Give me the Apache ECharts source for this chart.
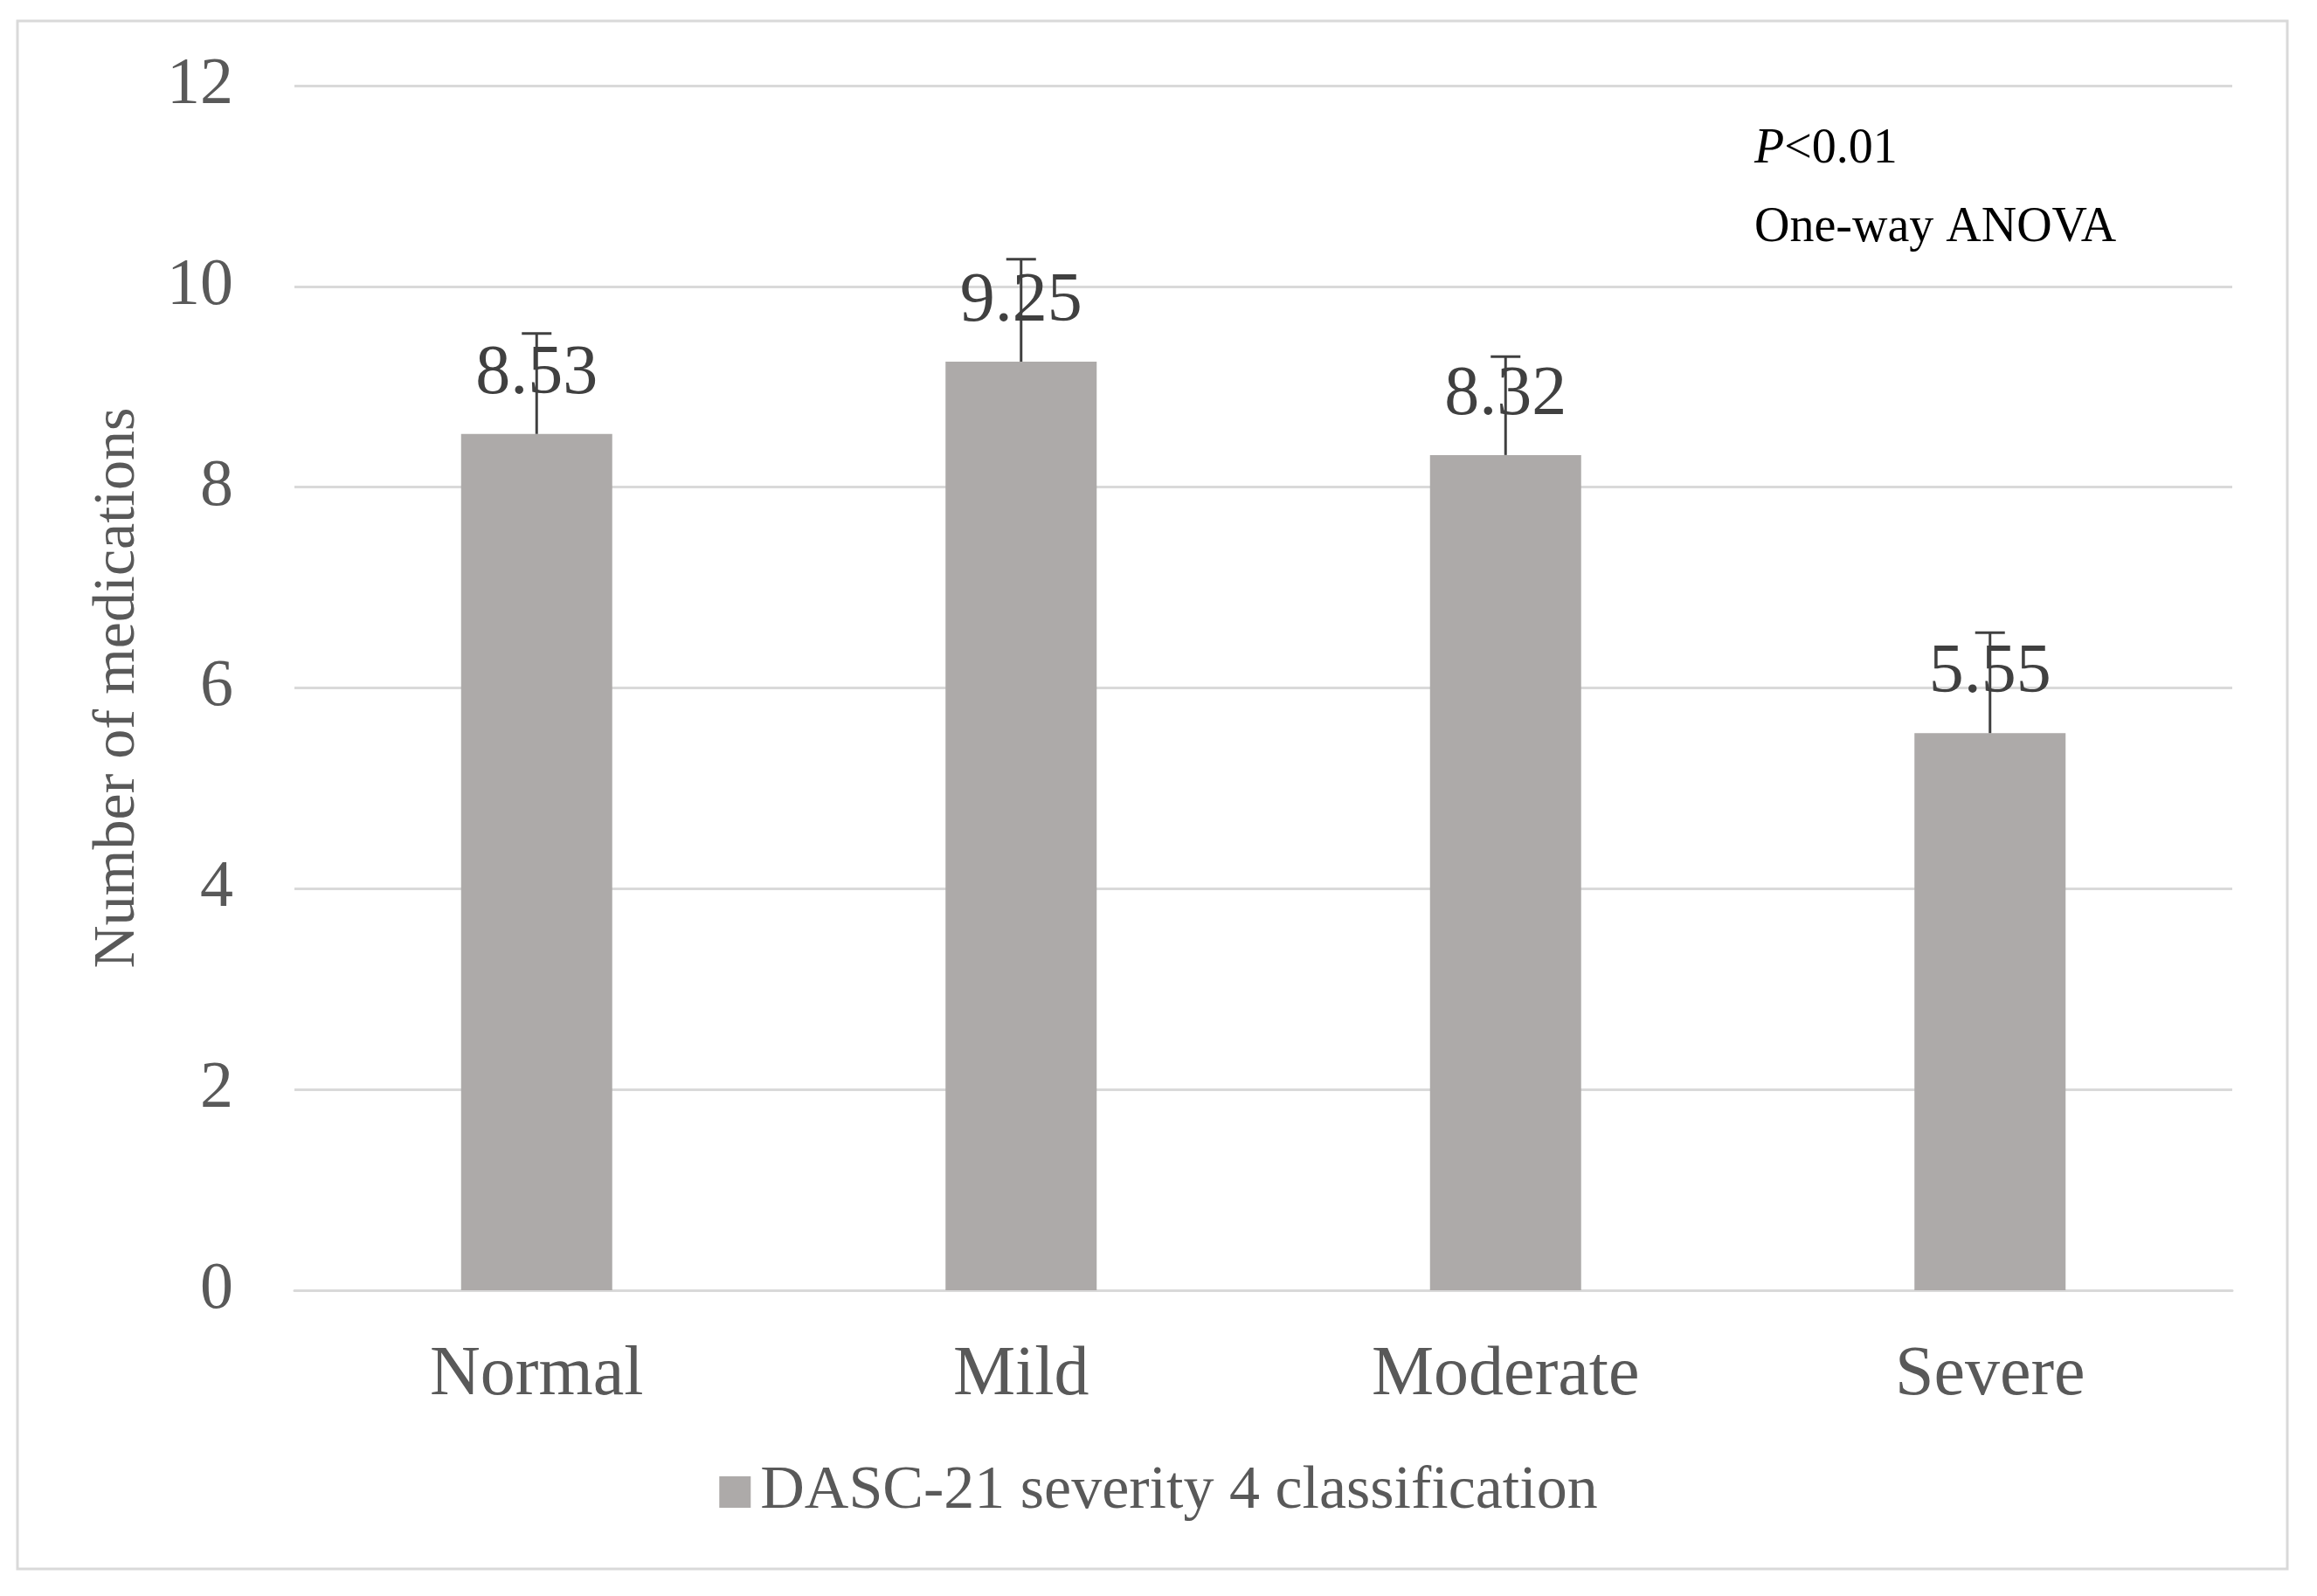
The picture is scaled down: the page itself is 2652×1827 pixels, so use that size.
<!DOCTYPE html>
<html>
<head>
<meta charset="utf-8">
<script src="https://cdn.jsdelivr.net/npm/echarts@6/dist/echarts.min.js"></script>
<style>
html,body{margin:0;padding:0;background:#fff;}
#chart{width:2652px;height:1827px;}
</style>
</head>
<body>
<div id="chart"></div>
<script>
const categories = ['Normal', 'Mild', 'Moderate', 'Severe'];
const meanValues = [8.53, 9.25, 8.32, 5.55];
const errorValues = [1.0, 1.02, 0.98, 1.0];
const yTicks = [0, 2, 4, 6, 8, 10, 12];
const seriesName = 'DASC-21 severity 4 classification';
const axisTitle = 'Number of medications';
const noteLines = ['P<0.01', 'One-way ANOVA'];

const FONT = "'Times New Roman', 'Liberation Serif', serif";
const chart = echarts.init(document.getElementById('chart'), null, {renderer: 'canvas'});

const errData = meanValues.map((v, i) => [i, v, v + errorValues[i]]);

chart.setOption({
  backgroundColor: '#ffffff',
  animation: false,
  textStyle: {fontFamily: FONT},
  grid: {left: 337, right: 97, top: 98, bottom: 350, containLabel: false},
  legend: {
    data: [seriesName],
    left: 'center',
    top: 1668,
    icon: 'rect',
    itemWidth: 36,
    itemHeight: 36,
    itemGap: 15,
    textStyle: {fontFamily: FONT, fontSize: 70, color: '#595959', padding: [0, 0, 0, 6]}
  },
  xAxis: {
    type: 'category',
    data: categories,
    axisTick: {show: false},
    axisLine: {lineStyle: {color: '#d9d9d9', width: 3}},
    axisLabel: {fontFamily: FONT, fontSize: 80, color: '#595959', margin: 58}
  },
  yAxis: {
    type: 'value',
    min: yTicks[0],
    max: yTicks[yTicks.length - 1],
    interval: yTicks[1] - yTicks[0],
    axisLine: {show: false},
    axisTick: {show: false},
    splitLine: {lineStyle: {color: '#d9d9d9', width: 3}},
    axisLabel: {fontFamily: FONT, fontSize: 76, color: '#595959', margin: 70},
    name: axisTitle,
    nameLocation: 'middle',
    nameRotate: 90,
    nameGap: 168,
    nameTextStyle: {fontFamily: FONT, fontSize: 68, color: '#595959'}
  },
  series: [
    {
      name: seriesName,
      type: 'bar',
      data: meanValues,
      barWidth: 173,
      itemStyle: {color: '#adaaa9'},
      label: {
        show: true,
        position: 'top',
        distance: 28,
        fontFamily: FONT,
        fontSize: 80,
        color: '#404040',
        formatter: p => p.value.toFixed(2)
      },
      z: 2
    },
    {
      name: 'error',
      type: 'custom',
      data: errData,
      encode: {x: 0, y: [1, 2]},
      z: 3,
      renderItem: function (params, api) {
        const i = api.value(0);
        const lo = api.coord([i, api.value(1)]);
        const hi = api.coord([i, api.value(2)]);
        const cap = 17;
        const style = {stroke: '#404040', lineWidth: 3};
        return {
          type: 'group',
          children: [
            {type: 'line', shape: {x1: lo[0], y1: lo[1], x2: hi[0], y2: hi[1]}, style: style},
            {type: 'line', shape: {x1: hi[0] - cap, y1: hi[1], x2: hi[0] + cap, y2: hi[1]}, style: style}
          ]
        };
      }
    }
  ],
  graphic: [
    {
      type: 'rect',
      shape: {x: 20, y: 24, width: 2598, height: 1772},
      style: {fill: 'none', stroke: '#d9d9d9', lineWidth: 3},
      silent: true
    },
    {
      type: 'text',
      left: 2008,
      top: 143,
      style: {
        text: '{i|P}{n|<0.01}',
        rich: {
          i: {fontFamily: FONT, fontSize: 56, fontStyle: 'italic', fill: '#000'},
          n: {fontFamily: FONT, fontSize: 56, fill: '#000'}
        }
      }
    },
    {
      type: 'text',
      left: 2008,
      top: 233,
      style: {text: noteLines[1], fontFamily: FONT, fontSize: 56, fill: '#000'}
    }
  ]
});
</script>
</body>
</html>
